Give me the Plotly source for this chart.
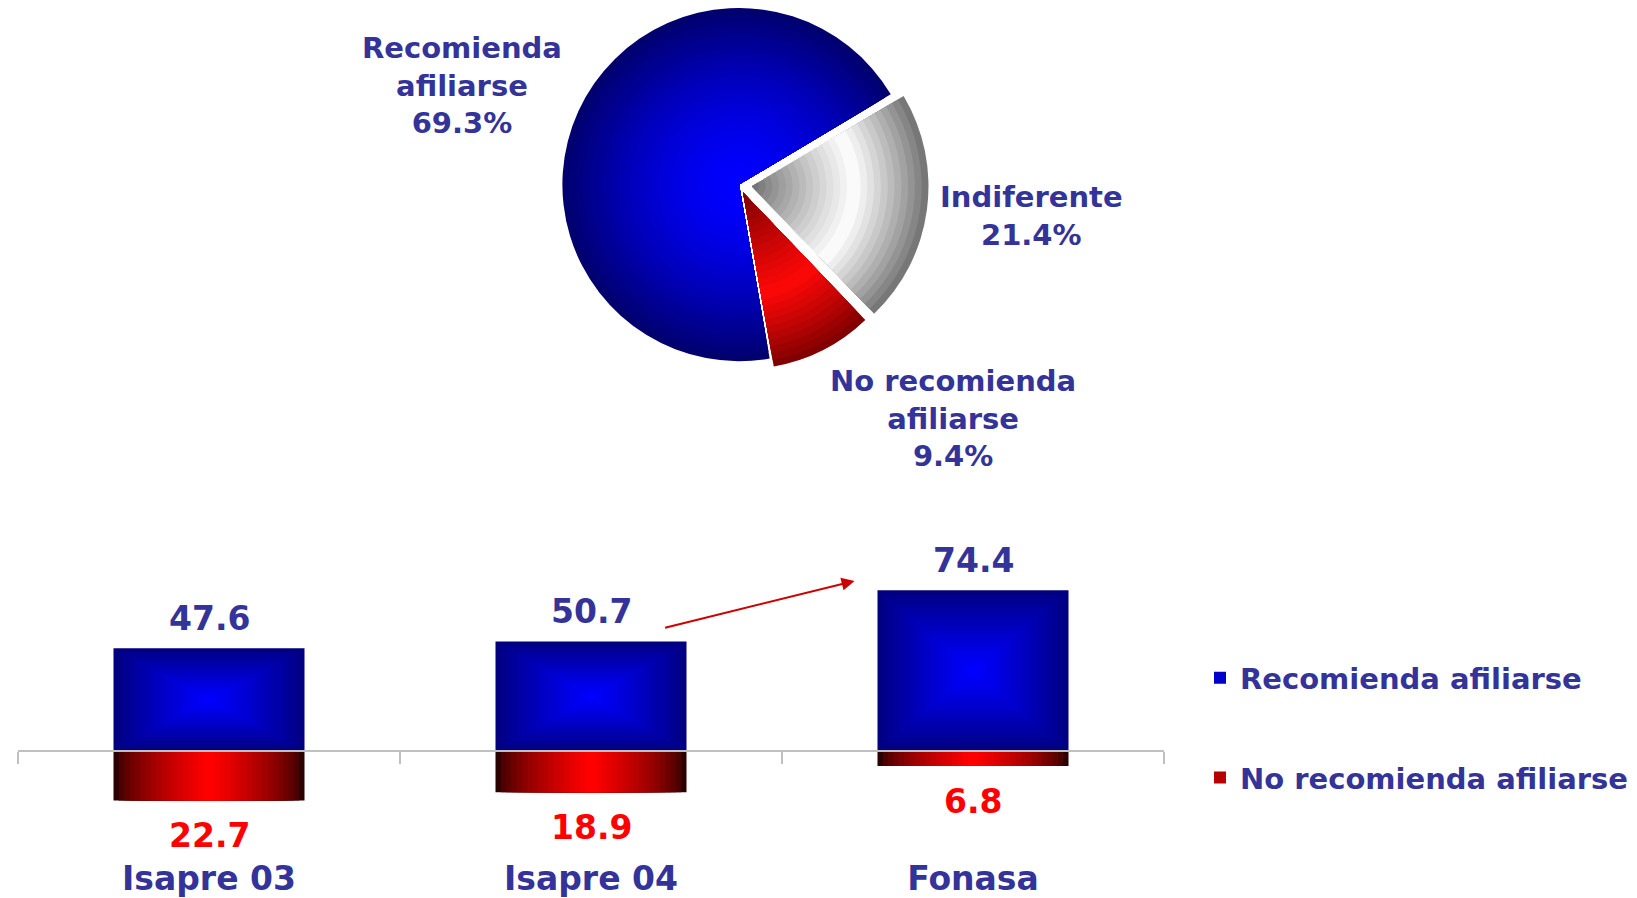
import math
import plotly.graph_objects as go

# ---------------- data ----------------
categories = ["Isapre 03", "Isapre 04", "Fonasa"]
recomienda = [47.6, 50.7, 74.4]
no_recomienda = [22.7, 18.9, 6.8]
bar_names = ["Recomienda afiliarse", "No recomienda afiliarse"]

pie_labels = ["Recomienda afiliarse", "Indiferente", "No recomienda afiliarse"]
pie_values = [69.3, 21.4, 9.4]

# ---------------- style ----------------
VW, VH = 1637, 898      # browser window
OFF = 8                 # default page (body) margin
FW, FH = VW - OFF, VH - OFF
TXT = "#333399"
RED_TXT = "#FF0000"
FONT = "DejaVu Sans"


def fx(vx):
    return (vx - OFF) / FW


def fy(vy):
    return 1 - (vy - OFF) / FH


def hex2rgb(h):
    h = h.lstrip("#")
    return tuple(int(h[i:i + 2], 16) for i in (0, 2, 4))


def mix(c1, c2, t):
    a, b = hex2rgb(c1), hex2rgb(c2)
    t = max(0.0, min(1.0, t))
    return "rgb(%d,%d,%d)" % tuple(round(a[i] + (b[i] - a[i]) * t) for i in range(3))


def peak(rho, p=0.58):
    return 1 - (p - rho) / p if rho < p else 1 - (rho - p) / (1 - p)


def pie_color(label_idx, rho):
    if label_idx == 0:
        return mix("#0000FF", "#00006A", rho ** 1.6)
    if label_idx == 1:
        return mix("#6E6E6E", "#FFFFFF", peak(rho) ** 0.9)
    return mix("#7A0000", "#FF0808", peak(rho) ** 0.9)


fig = go.Figure()

# ---------------- pie (layered for a radial shading, exploded slices) ----------------
R = 177                 # radius in px
CX, CY = 739, 185       # centre in window px
ROT = 170               # start angle (clockwise from 12 o'clock)
explode_px = [0, 13, 9] # offset of each slice along its mid angle
total = sum(pie_values)
mids, acc = [], 0.0
for v in pie_values:
    mids.append(math.radians(ROT + (acc + v / 2) / total * 360))
    acc += v
N_PIE = 26
for k in range(N_PIE):
    r = R * (1 - k / N_PIE)
    rho = 1 - (k + 0.5) / N_PIE
    for j in range(len(pie_labels)):
        cx = CX + explode_px[j] * math.sin(mids[j])
        cy = CY - explode_px[j] * math.cos(mids[j])
        cols = ["rgba(0,0,0,0)"] * len(pie_labels)
        cols[j] = pie_color(j, rho)
        fig.add_trace(go.Pie(
            labels=pie_labels, values=pie_values, sort=False,
            direction="clockwise", rotation=ROT,
            marker=dict(colors=cols, line=dict(width=0)),
            textinfo="none",
            hoverinfo="label+percent" if k == 0 else "skip",
            showlegend=False,
            domain=dict(x=[max(0.0, fx(cx - r)), min(1.0, fx(cx + r))],
                        y=[max(0.0, fy(cy + r)), min(1.0, fy(cy - r))]),
        ))

# ---------------- bars (layered for gradient fill) ----------------
BW = 0.5
N_BAR = 18
for k in range(N_BAR):
    f = 1 - k / N_BAR
    t = k / (N_BAR - 1)
    fig.add_trace(go.Bar(
        x=categories,
        y=[v * f for v in recomienda],
        base=[v * (1 - f) / 2 for v in recomienda],
        width=BW * f,
        marker=dict(color=mix("#000080", "#0000FF", t ** 0.9), line=dict(width=0)),
        name=bar_names[0], legendgroup="rec",
        showlegend=(k == N_BAR // 2),
        hoverinfo="skip" if k else "x+name",
    ))
for k in range(N_BAR):
    f = 1 - k / N_BAR
    t = k / (N_BAR - 1)
    fig.add_trace(go.Bar(
        x=categories,
        y=[-v for v in no_recomienda],
        width=BW * f,
        marker=dict(color=mix("#2A0000", "#FF0000", t ** 0.65), line=dict(width=0)),
        name=bar_names[1], legendgroup="norec",
        showlegend=(k == N_BAR // 2),
        hoverinfo="skip" if k else "x+name",
    ))

BAR_FS = 33
annotations = []
for i, v in enumerate(recomienda):
    annotations.append(dict(x=categories[i], y=v, xref="x", yref="y", text=f"{v:.1f}",
                            showarrow=False, yanchor="middle", yshift=30,
                            font=dict(size=BAR_FS, color=TXT, family=FONT, weight="bold")))
for i, v in enumerate(no_recomienda):
    annotations.append(dict(x=categories[i], y=-v, xref="x", yref="y", text=f"{v:.1f}",
                            showarrow=False, yanchor="middle", yshift=-35,
                            font=dict(size=BAR_FS, color=RED_TXT, family=FONT, weight="bold")))

# arrow from Isapre 04 to Fonasa
annotations.append(dict(x=1.69, y=78.7, ax=1.19, ay=56.9, xref="x", yref="y",
                        axref="x", ayref="y", text="", showarrow=True,
                        arrowhead=2, arrowsize=1.3, arrowwidth=2, arrowcolor="#CC0000"))

# pie labels
pie_pos = [(462, 86), (1032, 216), (953, 419)]
for lab, val, (px, py) in zip(pie_labels, pie_values, pie_pos):
    txt = lab.replace(" afiliarse", "<br>afiliarse") + "<br>" + f"{val:.1f}%"
    annotations.append(dict(x=fx(px), y=fy(py), xref="paper", yref="paper",
                            text=txt, showarrow=False, align="center",
                            xanchor="center", yanchor="middle",
                            font=dict(size=29, color=TXT, family=FONT, weight="bold")))

ZERO = 753              # window px of the zero line
SCALE = 2.17            # px per unit
Y_LO, Y_HI = -60, 100
fig.update_layout(
    width=FW, height=FH,
    margin=dict(l=0, r=0, t=0, b=0),
    paper_bgcolor="white", plot_bgcolor="white",
    barmode="overlay",
    font=dict(family=FONT, color=TXT, weight="bold"),
    annotations=annotations,
    showlegend=True,
    legend=dict(x=fx(1200), y=fy(729.5), xanchor="left", yanchor="middle",
                traceorder="grouped", tracegroupgap=59,
                font=dict(size=29, color=TXT, family=FONT, weight="bold"),
                bgcolor="rgba(0,0,0,0)"),
    xaxis=dict(type="category", domain=[fx(18), fx(1164)], range=[-0.5, 2.5],
               anchor="free", position=fy(ZERO),
               showline=True, linecolor="#C0C0C0", linewidth=2,
               ticks="outside", tickson="boundaries", ticklen=12, tickwidth=2,
               tickcolor="#C0C0C0", ticklabelstandoff=98,
               tickfont=dict(size=BAR_FS, color=TXT, family=FONT, weight="bold"),
               showgrid=False, zeroline=False, fixedrange=True),
    yaxis=dict(visible=False, range=[Y_LO, Y_HI],
               domain=[fy(ZERO - Y_LO * SCALE), fy(ZERO - Y_HI * SCALE)],
               showgrid=False, zeroline=False, fixedrange=True),
)

fig.write_html("out.html")
